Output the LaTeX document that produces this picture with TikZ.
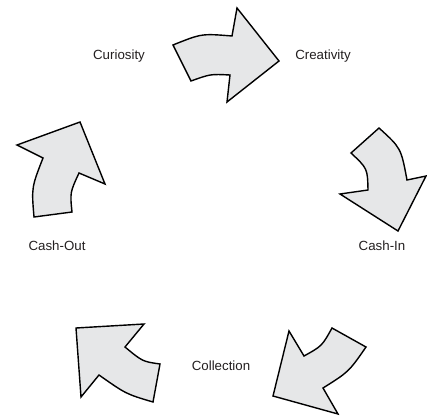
\documentclass[tikz,border=0pt]{standalone}
\usepackage{fontspec}
\setmainfont{Liberation Sans}
\begin{document}
\begin{tikzpicture}[x=1pt,y=-1pt,
  cyclearrow/.style={draw=black,line width=1.4pt,line join=miter,fill=arrowgray},
  steplabel/.style={font=\fontsize{13.3}{15}\selectfont,text=labelgray,inner sep=0pt}]
\definecolor{arrowgray}{RGB}{230,231,232}
\definecolor{labelgray}{RGB}{35,31,32}
\useasboundingbox (0,0) rectangle (427,415);

% Curiosity -> Creativity
\draw[cyclearrow] (173,45) .. controls (201.5,33.5) .. (232,36) -- (237,8) -- (279,61)
  -- (227,102) -- (230,75) .. controls (210.5,74) .. (191,81) -- cycle;

% Creativity -> Cash-In
\draw[cyclearrow] (379,128) -- (351,153) .. controls (367.5,168.5) .. (368,190)
  -- (340,194) -- (398,231) -- (426,176) -- (407,180)
  .. controls (401,148) .. cycle;

% Cash-In -> Collection
\draw[cyclearrow] (332,328) -- (366,347) .. controls (348.7,371.9) .. (323,388)
  -- (338,414) -- (273,396) -- (289,331) -- (304,356)
  .. controls (322,346) .. cycle;

% Collection -> Cash-Out
\draw[cyclearrow] (76,328) -- (144,324) -- (125,347) .. controls (142.5,361.5) .. (160,364)
  -- (153,402) .. controls (126,394) .. (99,375) -- (81,397) -- cycle;

% Cash-Out -> Curiosity
\draw[cyclearrow] (80,122) -- (17,145) -- (43,158) .. controls (31.5,187.5) .. (34,217)
  -- (72,212) .. controls (70,192.5) .. (79,173) -- (105,184) -- cycle;

\node[steplabel] (curiosity)  at (119,56)  {Curiosity};
\node[steplabel] (creativity) at (323,56)  {Creativity};
\node[steplabel] (cashin)     at (382,246) {Cash-In};
\node[steplabel] (collection) at (221,366) {Collection};
\node[steplabel] (cashout)    at (57,246)  {Cash-Out};
\end{tikzpicture}
\end{document}
